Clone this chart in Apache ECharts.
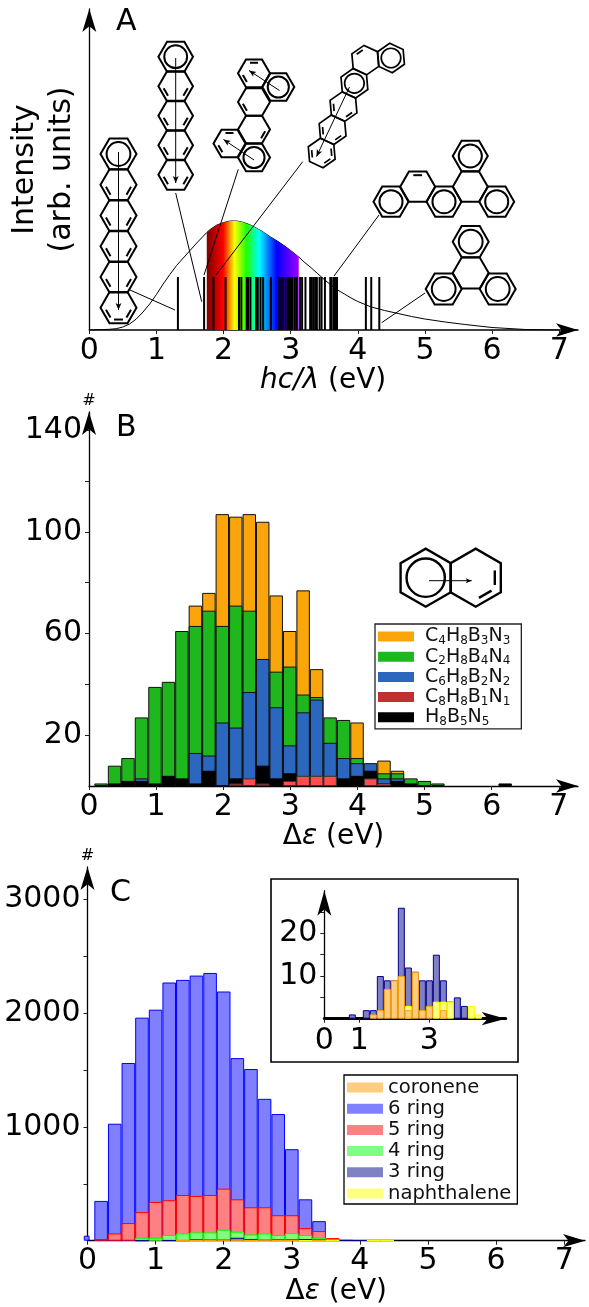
<!DOCTYPE html>
<html><head><meta charset="utf-8">
<script src="https://cdn.jsdelivr.net/npm/echarts@6/dist/echarts.min.js"></script>
<style>html,body{margin:0;padding:0;background:#fff}#c{width:589px;height:1307px}</style>
</head><body><div id="c"></div>
<script>
// ---------- Panel A ----------
const spectrumCurve = [[0,0],[0.1,0.2],[0.2,0.4],[0.3,0.7],[0.4,1.3],[0.5,3],[0.6,6],[0.7,11],[0.8,18],[0.9,26],[1.0,35.5],[1.1,46],[1.2,55.5],[1.3,64.5],[1.4,72],[1.5,79.5],[1.6,87],[1.7,94],[1.75,97.5],[1.8,100.5],[1.9,105],[2.0,107.5],[2.1,109],[2.2,109],[2.3,107.5],[2.4,105],[2.5,101.5],[2.6,97.5],[2.7,93],[2.8,89],[2.9,84.5],[3.0,79.5],[3.12,73],[3.2,68],[3.3,62.5],[3.4,56.5],[3.5,50.5],[3.6,45],[3.7,40],[3.8,36],[3.9,32],[4.0,28.5],[4.2,23],[4.4,19.5],[4.6,16.5],[4.8,13.5],[5.0,11],[5.3,8],[5.6,5.5],[6.0,2.5],[6.5,0.5],[7,0]];
const visibleFrom = 1.75, visibleTo = 3.12;
const excitationEnergies = [1.32,1.71,1.85,2.03,2.23,2.265,2.345,2.365,2.40,2.485,2.51,2.55,2.59,2.705,2.83,2.86,2.89,2.925,2.96,2.99,3.02,3.06,3.09,3.14,3.17,3.22,3.29,3.315,3.34,3.365,3.39,3.43,3.46,3.51,3.59,3.61,3.64,3.66,3.69,4.12,4.20,4.32];
const stickHeight = 53;
const xTicks = [0,1,2,3,4,5,6,7];

// ---------- Panel B ----------
const binsB = [0.18,0.381,0.581,0.782,0.983,1.184,1.384,1.585,1.786,1.986,2.187,2.388,2.588,2.789,2.99,3.19,3.391,3.592,3.793,3.993,4.194,4.395,4.595,4.796,4.997,5.198,6.2];
const orangeB = [null,null,null,null,null,null,null,71,76,107,106,107,104,75,61,77,46,null,null,25,null,10,6,null,null,null,null];
const greenB  = [1,8,11,27,39,41,61,63,69,63,71,69,null,45,47,36,35,27,26,11,null,5,5,3,2,1,null];
const blueB   = [null,null,null,3,null,null,null,13,12,25,23,37,50,31,16,29,34,17,11,9,9,3,3,null,null,null,null];
const blackB  = [null,1,2,2,1,4,3,1,6,null,3,null,8,3,5,null,null,null,3,4,6,1,2,1,null,null,1];
const redB    = [null,null,null,null,null,null,null,null,null,null,1,3,1,null,2,4,4,4,null,null,3,1,null,null,null,null,null];
const yTicksB = [20,40,60,80,100,120,140];
const yLabelsB = [20,60,100,140];

// ---------- Panel C ----------
const binsC = [0.2,0.4,0.6,0.8,1.0,1.2,1.4,1.6,1.8,2.0,2.2,2.4,2.6,2.8,3.0,3.2,3.4,3.6];
const ring6 = [350,1029,1563,1962,2032,2271,2294,2332,2355,2192,1606,1510,1248,1114,805,364,172,null];
const ring5 = [15,64,155,251,341,356,402,394,402,458,364,294,294,224,224,111,85,23];
const ring4 = [null,null,null,26,26,50,64,73,73,96,79,55,64,50,67,50,26,12];
const ring6FirstBinCentre = [0.045];
const ring6FirstBin = [44];
const yTicksC = [500,1000,1500,2000,2500,3000];
const yLabelsC = [1000,2000,3000];

// ---------- Panel C inset (also drawn in the main axes) ----------
const binsInset = [0.8,1.2,1.4,1.6,1.8,2.0,2.2,2.4,2.6,2.8,3.0,3.2,3.4,3.6,3.8,4.0,4.2,4.4];
const ring3       = [1,2,2,10,9,9,26,12,11,9,9,15,9,4,5,3,null,null];
const coronene    = [null,null,1,2,7,9,10,2,11,2,3,null,2,null,null,null,null,null];
const naphthalene = [null,null,null,null,null,null,null,3,null,null,null,4,4,4,null,null,3,1];

const FONT = 'DejaVu Sans';
const pairs = (xs, ys) => xs.map((x,i)=>[x, ys[i]]);

function axisX(grid, max, arrow, ticks, labels, name, pad, gap, lineW, margin) {
  return { gridIndex:grid, type:'value', min:0, max:max, splitLine:{show:false},
    axisLine:{show:true, onZero:false, symbol:['none','arrow'], symbolSize:arrow, lineStyle:{color:'#000',width:lineW}},
    axisTick:{show:true, length:4, lineStyle:{color:'#222',width:1}, customValues:ticks},
    axisLabel:{fontFamily:FONT, fontSize:30, color:'#000', margin:margin||6, customValues:labels, formatter:v=>String(v), hideOverlap:false},
    name:name, nameLocation:'middle', nameGap:gap,
    nameTextStyle:{fontFamily:FONT, fontSize:28, color:'#000', padding:[0,pad,0,0],
      rich:{i:{fontFamily:FONT,fontSize:28,fontStyle:'italic',color:'#000'}, d:{fontFamily:FONT,fontSize:28,color:'#000'}, t:{fontFamily:FONT,fontSize:28,color:'#000'}}}
  };
}
function axisY(grid, max, ticks, labels, name, arrow) {
  return { gridIndex:grid, type:'value', min:0, max:max, splitLine:{show:false},
    axisLine:{show:true, onZero:false, symbol:['none','arrow'], symbolSize:arrow, lineStyle:{color:'#000',width:1.3}},
    axisTick:{show:ticks.length>0, length:4, lineStyle:{color:'#222',width:1}, customValues:ticks},
    axisLabel:{show:labels.length>0, fontFamily:FONT, fontSize:30, color:'#000', margin:7, customValues:labels, formatter:v=>String(v), hideOverlap:false},
    name:name, nameLocation:'end', nameGap:3,
    nameTextStyle:{fontFamily:FONT, fontSize:16, color:'#000'}
  };
}

const sBar = (name,color,border,bins,vals,xi,bw,bwid,z) => ({
  type:'bar', name:name, xAxisIndex:xi, yAxisIndex:xi, barWidth:bw, barGap:'-100%', z:z||2,
  itemStyle:{color:color, borderColor:border, borderWidth:bwid}, data:pairs(bins,vals).filter(p=>p[1]!=null), animation:false
});

const C_ORANGE='#ffcc80', C_BLUE='#8080ff', C_RED='#ff8080', C_GREEN='#80ff80', C_NAVY='#8080c5', C_YELLOW='#ffff80';

// ---------- molecule sketches (decoration, in page pixels) ----------
const g = [];
const LW = 2;
function ring(cx,cy,R,o) {
  o=o||{}; const rot=(o.rot||0)*Math.PI/180; const v=[];
  for(let i=0;i<6;i++) v.push([cx+R*Math.cos(rot+i*Math.PI/3), cy+R*Math.sin(rot+i*Math.PI/3)]);
  g.push({type:'polygon',shape:{points:v},style:{fill:'none',stroke:'#000',lineWidth:o.lw||LW},z:5});
  if(o.circle) g.push({type:'circle',shape:{cx:cx,cy:cy,r:R*0.66},style:{fill:'none',stroke:'#000',lineWidth:o.lw||LW},z:5});
  (o.dbl||[]).forEach(e=>{
    const a=v[e], b=v[(e+1)%6], k=0.76, m=0.17;
    const ax=cx+(a[0]-cx)*k, ay=cy+(a[1]-cy)*k, bx=cx+(b[0]-cx)*k, by=cy+(b[1]-cy)*k;
    g.push({type:'line',shape:{x1:ax+(bx-ax)*m,y1:ay+(by-ay)*m,x2:bx-(bx-ax)*m,y2:by-(by-ay)*m},style:{stroke:'#000',lineWidth:o.lw||LW},z:5});
  });
}
function arrow(x1,y1,x2,y2,s) {
  s=s||6; const a=Math.atan2(y2-y1,x2-x1), c=Math.cos(a), sn=Math.sin(a);
  g.push({type:'line',shape:{x1:x1,y1:y1,x2:x2,y2:y2},style:{stroke:'#000',lineWidth:1},z:6});
  g.push({type:'polygon',shape:{points:[[x2,y2],[x2-s*c+s*0.42*sn,y2-s*sn-s*0.42*c],[x2-s*0.75*c,y2-s*0.75*sn],[x2-s*c-s*0.42*sn,y2-s*sn+s*0.42*c]]},style:{fill:'#000',stroke:'none'},z:6});
}
function leader(x1,y1,x2,y2){ g.push({type:'line',shape:{x1,y1,x2,y2},style:{stroke:'#000',lineWidth:1},z:6}); }

// molecule 1: vertical chain, left
[154,184.8,215.6,246.3,277,307.7].forEach((y,i)=>ring(118.5,y,18,{circle:i===0,dbl:i===0?[]:(i===5?[0,2,1]:[0,2])}));
arrow(118.5,152,118.5,310,7);
// molecule 2: vertical chain
[56.7,86.3,115.7,145.3,174.7].forEach((y,i)=>ring(175.7,y,17.3,{circle:i===0,dbl:i===0?[]:[0,2]}));
arrow(175.7,58,175.7,183,7);
// molecule 3
ring(254,73.3,16,{dbl:[4,2]}); ring(278.3,87,16,{circle:true}); ring(254,102,16,{dbl:[2]});
ring(254,129.5,16,{dbl:[0]}); ring(254,157.5,16,{circle:true}); ring(229.5,143.5,16,{dbl:[4,2]});
arrow(279.5,90.5,249,70.5,7); arrow(254,160,223.5,139.5,7);
// molecule 4: tilted chain
const m4x=[321.7,332.6,343.5,354.4,365.3,391], m4y=[153,129.8,106.6,83.3,60.1,58];
const m4d=[[0,2,5],[0,2],[0,2],[],[3],[]], m4c=[false,false,false,true,false,true];
m4x.forEach((x,i)=>ring(x,m4y[i],14.8,{rot:25,circle:m4c[i],dbl:m4d[i],lw:1.7}));
arrow(349.5,87,316.5,156.5,7);
// molecule 5
[[391,201.7,1],[417.7,186.7,0],[444,201.7,1],[470.3,186.7,0],[496.7,201.7,1],[470.3,156,1]].forEach((r,i)=>ring(r[0],r[1],17.5,{circle:!!r[2],dbl:i===1?[4]:[]}));
// molecule 6
[[470.7,241.7,1],[470.7,273,0],[443.7,289,1],[497.7,289,1]].forEach(r=>ring(r[0],r[1],18,{circle:!!r[2]}));
// leaders
leader(130,290,175,310); leader(175.7,193,201.7,301.7); leader(238.3,169.3,204,275);
leader(302.7,161.7,216,275); leader(379,215,334,276); leader(425,293,381.7,322.7);
// panel B naphthalene
ring(425.7,577.7,29,{rot:30,circle:true,lw:2.4}); ring(475.7,577.7,29,{rot:30,dbl:[5,0],lw:2.4});
arrow(429,580.7,471.7,580.7,6);
// inset frame
g.push({type:'rect',shape:{x:271,y:879,width:247,height:183},style:{fill:'#fff',stroke:'#000',lineWidth:1.6},z:0});
// panel letters
[['A',116,7],['B',116,413],['C',110,878]].forEach(t=>g.push({type:'text',x:t[1],y:t[2],style:{text:t[0],fontFamily:FONT,fontSize:30,fill:'#000'},z:6}));

const rainbow = {type:'linear',x:0,y:0,x2:1,y2:0,colorStops:[
 {offset:0,color:'#7d0000'},{offset:0.18,color:'#ff0000'},{offset:0.24,color:'#ff8000'},{offset:0.30,color:'#ffff00'},
 {offset:0.43,color:'#20ff00'},{offset:0.57,color:'#00ffff'},{offset:0.76,color:'#0000ff'},{offset:1,color:'#a000ff'}]};

const subFmt = n => n.replace(/([A-Z])(\d)/g,'{n|$1}{s|$2}');
const redDark = [2.187,2.588];

const option = {
  backgroundColor:'#fff', animation:false, graphic:{elements:g},
  grid:[
    {left:89.3, top:9,   width:488.7, height:321, outerBoundsMode:'none'},
    {left:89,   top:412, width:489,   height:374, outerBoundsMode:'none'},
    {left:87.5, top:867, width:497.5, height:373.7, outerBoundsMode:'none'},
    {left:324.3,top:890.7,width:181.4,height:128, outerBoundsMode:'none'}
  ],
  xAxis:[
    axisX(0,7.28,[10,22],xTicks,xTicks,'{i|hc/λ}{t| (eV)}',21,33,1.5),
    axisX(1,7.285,[10,22],xTicks,xTicks,'{d|Δ}{i|ε}{t| (eV)}',0,33,1.3),
    axisX(2,7.305,[10,22],xTicks,xTicks,'{d|Δ}{i|ε}{t| (eV)}',0,33,1.3),
    axisX(3,5.18,[10,24],[0,1,3],[0,1,3],'',0,0,3,8)
  ],
  yAxis:[
    Object.assign(axisY(0,321,[],[], '',[10.5,23]),{name:'Intensity\n(arb. units)',nameLocation:'middle',nameGap:9,nameRotate:90,nameTextStyle:{fontFamily:FONT,fontSize:30,lineHeight:37,color:'#000'}}),
    axisY(1,147.2,yTicksB,yLabelsB,'#',[10.5,23]),
    axisY(2,3287,yTicksC,yLabelsC,'#',[10.5,23]),
    axisY(3,30,[5,10,15,20,25],[10,20],'',[10.5,25])
  ],
  legend:[
    {left:375,top:624,orient:'vertical',padding:[3,11,1,3],itemGap:0.2,itemWidth:36,itemHeight:10,selectedMode:false,
     backgroundColor:'#fff',borderColor:'#222',borderWidth:1.3,align:'left',icon:'rect',z:7,itemStyle:{borderWidth:0},
     data:['C4H8B3N3','C2H8B4N4','C6H8B2N2','C8H8B1N1','H8B5N5'],formatter:subFmt,
     textStyle:{padding:[0,0,0,6],rich:{n:{fontFamily:FONT,fontSize:19,color:'#111',lineHeight:21},s:{fontFamily:FONT,fontSize:12,color:'#111',lineHeight:12,verticalAlign:'bottom'}}}},
    {left:344,top:1075,orient:'vertical',padding:[2,6,0,3],itemGap:0.2,itemWidth:36,itemHeight:10,selectedMode:false,
     backgroundColor:'#fff',borderColor:'#000',borderWidth:1.3,align:'left',icon:'rect',z:7,itemStyle:{borderWidth:0},
     data:['coronene','6 ring','5 ring','4 ring','3 ring','naphthalene'],
     textStyle:{fontFamily:FONT,fontSize:19.6,color:'#111',lineHeight:21,padding:[0,0,0,0]}}
  ],
  series:[
    {type:'line',xAxisIndex:0,yAxisIndex:0,name:'Blackbody',data:spectrumCurve,showSymbol:false,lineStyle:{color:'#000',width:1},z:2},
    {type:'line',xAxisIndex:0,yAxisIndex:0,name:'Visible',data:spectrumCurve.filter(p=>p[0]>=visibleFrom&&p[0]<=visibleTo),showSymbol:false,lineStyle:{width:0},areaStyle:{color:rainbow,opacity:1},z:3},
    {type:'bar',xAxisIndex:0,yAxisIndex:0,name:'Excitations',barWidth:2,barGap:'-100%',itemStyle:{color:'#000'},data:excitationEnergies.map(e=>[e,stickHeight]),z:4},

    sBar('C4H8B3N3','#faa50a','#111',binsB,orangeB,1,13.45,1,2),
    sBar('C2H8B4N4','#1eb81e','#111',binsB,greenB,1,13.45,1,2),
    sBar('C6H8B2N2','#2b67bf','#111',binsB,blueB,1,13.45,1,2),
    sBar('H8B5N5','#000','#000',binsB,blackB,1,13.45,1,2),
    Object.assign(sBar('C8H8B1N1','#c03030','#333',binsB,redB,1,13.45,1,2),{
      data:pairs(binsB,redB).filter(p=>p[1]!=null).map(p=>({value:p,itemStyle:{color:redDark.includes(p[0])?'#c03030':'#ff4d4d'}}))}),

    sBar('6 ring',C_BLUE,'#0000ff',ring6FirstBinCentre,ring6FirstBin,2,5.8,1,2),
    sBar('6 ring',C_BLUE,'#0000ff',binsC,ring6,2,13.6,1,2),
    sBar('5 ring',C_RED,'#ff0000',binsC,ring5,2,13.6,1,2),
    sBar('4 ring',C_GREEN,'#00ff00',binsC,ring4,2,13.6,1,2),
    sBar('3 ring',C_NAVY,'#00008b',binsInset,ring3,2,13.6,1,2),
    sBar('naphthalene',C_YELLOW,'#ffff00',binsInset,naphthalene,2,13.6,1,2),
    sBar('coronene',C_ORANGE,'#ffa500',binsInset,coronene,2,13.6,1,2),

    sBar('3 ring',C_NAVY,'#00008b',binsInset,ring3,3,7,1,3),
    sBar('naphthalene',C_YELLOW,'#ffff00',binsInset,naphthalene,3,7,1,3),
    sBar('coronene',C_ORANGE,'#ffa500',binsInset,coronene,3,7,1,3)
  ]
};
const chart = echarts.init(document.getElementById('c'),null,{renderer:'canvas',width:589,height:1307});
chart.setOption(option);
</script></body></html>
